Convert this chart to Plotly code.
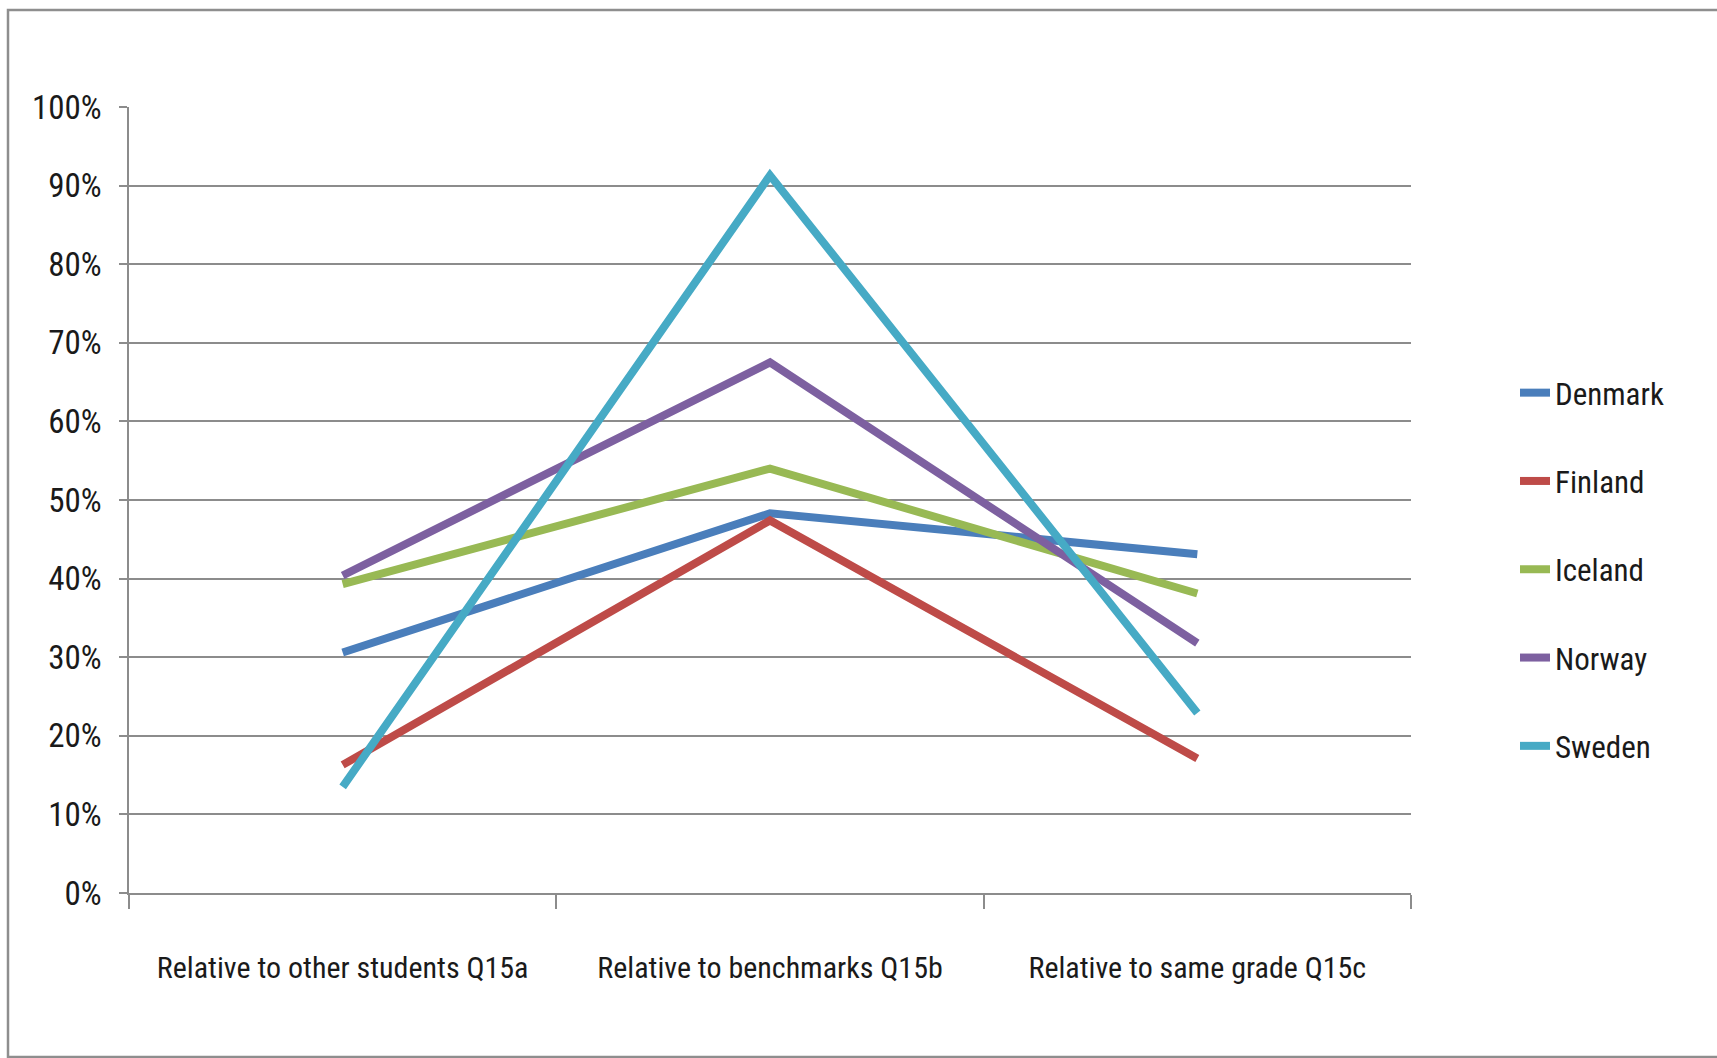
import plotly.graph_objects as go

# Survey categories and share of respondents per country
categories = [
    "Relative to other students Q15a",
    "Relative to benchmarks Q15b",
    "Relative to same grade Q15c",
]
countries = ["Denmark", "Finland", "Iceland", "Norway", "Sweden"]
denmark = [0.306, 0.483, 0.431]
finland = [0.163, 0.474, 0.171]
iceland = [0.393, 0.540, 0.381]
norway = [0.404, 0.675, 0.318]
sweden = [0.135, 0.913, 0.229]
colors = ["#4A7EBB", "#BE4B48", "#98B954", "#7D60A0", "#46AAC5"]

y_tickvals = [0, 0.1, 0.2, 0.3, 0.4, 0.5, 0.6, 0.7, 0.8, 0.9, 1.0]
y_ticktext = ["0%", "10%", "20%", "30%", "40%", "50%", "60%", "70%", "80%", "90%", "100%"]

FONT = "Roboto Condensed, Liberation Sans Narrow, DejaVu Sans Condensed, sans-serif"
GRID = "#8c8c8c"

W, H = 1717, 1058
L, R, T, B = 129, 306, 107, 165
PW, PH = W - L - R, H - T - B

fig = go.Figure()
for name, vals, col in zip(countries, [denmark, finland, iceland, norway, sweden], colors):
    fig.add_trace(go.Scatter(
        x=categories, y=vals, name=name, mode="lines",
        line=dict(color=col, width=8),
        legendgroup=name,
    ))

# outer frame of the chart
fig.add_shape(
    type="rect", xref="paper", yref="paper",
    x0=(8 - L) / PW, x1=(W + 20 - L) / PW,
    y0=(H - B - 1057) / PH, y1=(H - B - 10) / PH,
    line=dict(color="#8e8e8e", width=2.5), layer="below",
)

fig.update_layout(
    width=W, height=H,
    margin=dict(l=L, r=R, t=T, b=B, pad=0, autoexpand=False),
    paper_bgcolor="white", plot_bgcolor="white",
    font=dict(family=FONT, size=31, color="#1a1a1a"),
    showlegend=True,
    legend=dict(
        x=(1515 - L) / PW, xanchor="left",
        y=(H - B - 366) / PH, yanchor="top",
        font=dict(family=FONT, size=31, color="#1a1a1a"),
        tracegroupgap=45, itemwidth=30,
        bgcolor="rgba(0,0,0,0)",
    ),
)

fig.update_xaxes(
    type="category", range=[-0.5, 2.5],
    showgrid=False, zeroline=False, automargin=False, tickangle=0,
    showline=True, linecolor=GRID, linewidth=2,
    ticks="outside", tickson="boundaries", ticklen=14, tickwidth=1.5, tickcolor=GRID,
    tickfont=dict(family=FONT, size=30, color="#1a1a1a"),
    ticklabelstandoff=47,
)
fig.update_yaxes(
    range=[0, 1], tickvals=y_tickvals, ticktext=y_ticktext,
    showgrid=True, gridcolor=GRID, gridwidth=2, automargin=False,
    zeroline=False,
    showline=True, linecolor=GRID, linewidth=1.5,
    ticks="outside", ticklen=8, tickwidth=2, tickcolor=GRID,
    tickfont=dict(family=FONT, size=33, color="#1a1a1a"),
    ticklabelstandoff=11,
)

fig.write_html("out.html")
